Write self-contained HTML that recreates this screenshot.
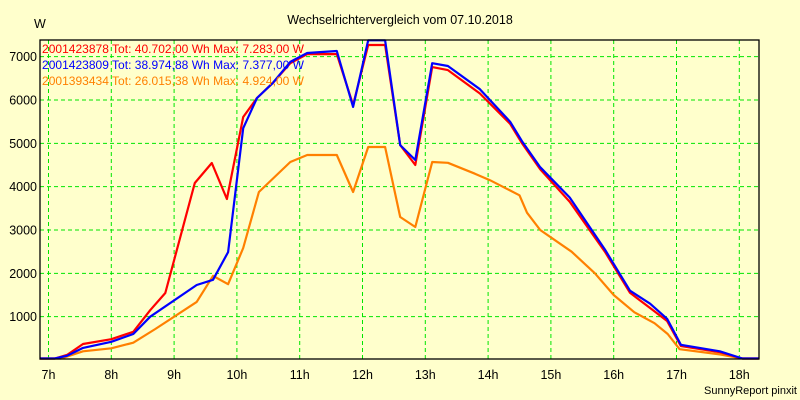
<!DOCTYPE html>
<html><head><meta charset="utf-8"><style>
html,body{margin:0;padding:0;background:#ffffcc;}
svg{display:block;font-family:"Liberation Sans",sans-serif;}
</style></head><body>
<svg id="chart" width="800" height="400" viewBox="0 0 800 400">
<rect x="0" y="0" width="800" height="400" fill="#ffffcc"/>
<text x="400" y="24" text-anchor="middle" font-size="12.5" fill="#000">Wechselrichtervergleich vom 07.10.2018</text>
<text x="34" y="28" font-size="12.5" fill="#000">W</text>
<text x="797" y="394" text-anchor="end" font-size="11" fill="#000">SunnyReport pinxit</text>
<g id="grid"></g><g id="series"></g><g id="axes"></g>
<g font-size="12">
<text x="42" y="53" fill="#ff0000" textLength="262">2001423878 Tot: 40.702,00 Wh Max: 7.283,00 W</text>
<text x="42" y="69" fill="#0000ff" textLength="262">2001423809 Tot: 38.974,88 Wh Max: 7.377,00 W</text>
<text x="42" y="85" fill="#ff8000" textLength="262">2001393434 Tot: 26.015,38 Wh Max: 4.924,00 W</text>
</g>
</svg>
<script>
const xTicks=[7,8,9,10,11,12,13,14,15,16,17,18];
const yTicks=[1000,2000,3000,4000,5000,6000,7000];
const redT=[6.86,7.1,7.3,7.55,8.0,8.35,8.62,8.86,9.33,9.6,9.84,10.1,10.32,10.57,10.85,11.12,11.59,11.85,12.09,12.36,12.6,12.84,13.11,13.36,13.87,14.35,14.54,14.83,15.3,15.86,16.26,16.58,16.85,17.07,17.69,18.05,18.31];
const redV=[0,0,120,370,480,650,1150,1546,4085,4546,3716,5608,6046,6390,6850,7060,7060,5885,7270,7270,4960,4500,6760,6690,6150,5450,5000,4400,3650,2500,1550,1200,900,320,180,0,0];
const blueT=[6.86,7.1,7.3,7.55,8.0,8.35,8.62,9.36,9.62,9.86,10.1,10.32,10.57,10.85,11.12,11.59,11.85,12.09,12.36,12.6,12.84,13.11,13.36,13.87,14.35,14.54,14.83,15.3,15.86,16.26,16.58,16.85,17.07,17.69,18.05,18.31];
const blueV=[0,0,100,280,420,600,1000,1730,1850,2490,5350,6046,6390,6880,7085,7130,5840,7377,7377,4960,4615,6850,6785,6250,5500,5050,4450,3750,2550,1600,1300,950,350,200,20,0];
const orangeT=[6.86,7.2,7.3,7.55,8.0,8.35,8.7,9.36,9.62,9.86,10.1,10.35,10.85,11.12,11.59,11.85,12.09,12.36,12.6,12.84,13.11,13.36,13.79,14.03,14.5,14.62,14.83,15.33,15.7,16.0,16.33,16.65,16.86,17.05,17.69,18.05,18.31];
const orangeV=[0,0,80,200,270,400,715,1340,1940,1750,2585,3877,4570,4730,4730,3877,4915,4915,3300,3070,4570,4550,4300,4150,3800,3400,3000,2500,2000,1500,1100,850,600,250,130,0,0];
const X0=40,X1=759,Y0=40,Y1=360;
const x=h=>48.5+(h-7)*62.8;
const y=v=>Y1-v*(320/7385);
const NS="http://www.w3.org/2000/svg";
const grid=document.getElementById('grid'),axes=document.getElementById('axes'),ser=document.getElementById('series');
function mk(tag,attrs,parent){const e=document.createElementNS(NS,tag);for(const k in attrs)e.setAttribute(k,attrs[k]);parent.appendChild(e);return e;}
xTicks.forEach(t=>{
 const l=mk('line',{x1:x(t),x2:x(t),y1:Y0,y2:Y1-1,stroke:'#00e600','stroke-dasharray':'4,3','stroke-width':1},grid);
 
 
 const tx=mk('text',{x:x(t),y:379,'text-anchor':'middle','font-size':12.5,fill:'#000'},axes);
 tx.textContent=t+'h';
 
 
});
yTicks.forEach(v=>{
 const l=mk('line',{x1:X0,x2:X1,y1:y(v),y2:y(v),stroke:'#00e600','stroke-dasharray':'4,3','stroke-width':1},grid);
 
 
 const tx=mk('text',{x:37,y:y(v)+4.5,'text-anchor':'end','font-size':12.5,fill:'#000'},axes);
 tx.textContent=v;
 
 
});
const frame=mk('rect',{x:X0,y:Y0,width:X1-X0,height:Y1-1-Y0,fill:'none',stroke:'#000','stroke-width':1.3},axes);


function line(T,V,color,name){
 const p=mk('polyline',{points:T.map((t,i)=>x(t).toFixed(1)+','+Math.min(y(V[i]),358.5).toFixed(1)).join(' '),fill:'none',stroke:color,'stroke-width':2.2,'stroke-linejoin':'round'},ser);
 
 
}
line(orangeT,orangeV,'#ff8000','series-2001393434');
line(redT,redV,'#ff0000','series-2001423878');
line(blueT,blueV,'#0000ff','series-2001423809');
</script>
</body></html>
